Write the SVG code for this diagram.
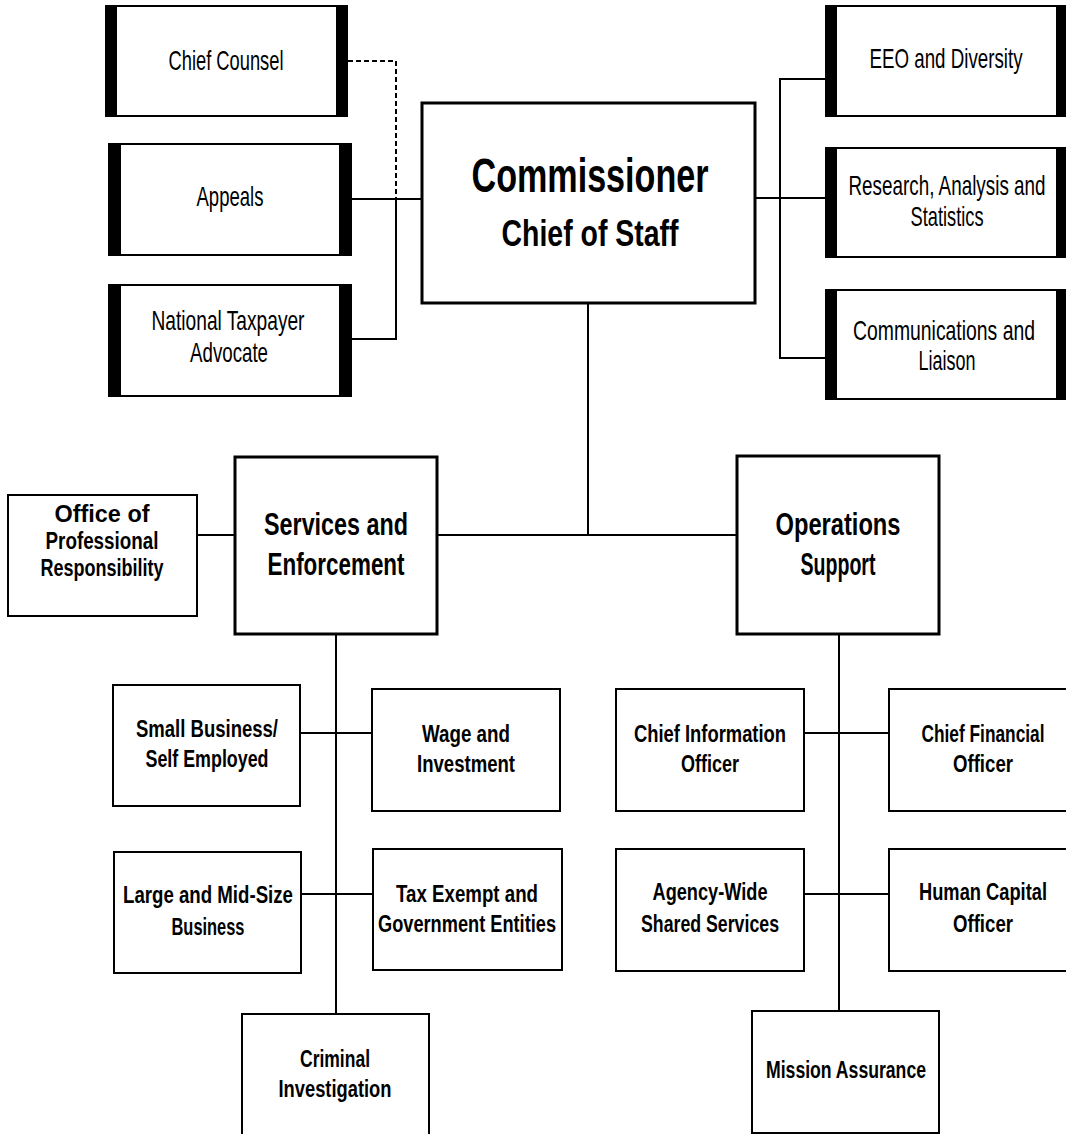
<svg xmlns="http://www.w3.org/2000/svg" width="1066" height="1134" viewBox="0 0 1066 1134">
<style>
.bx{fill:#fff;stroke:#000;stroke-width:2}
.bx3{fill:#fff;stroke:#000;stroke-width:3}
.bar{fill:#000}
.ln{fill:none;stroke:#000;stroke-width:2}
.dash{fill:none;stroke:#000;stroke-width:2;stroke-dasharray:5 3}
text{font-family:"Liberation Sans Narrow","Liberation Sans",Arial,sans-serif;text-anchor:middle;fill:#000}
.lt{font-size:28px;font-weight:normal}
.b{font-size:23px;font-weight:bold}
.bm{font-size:32px;font-weight:bold}
.bl{font-size:48px;font-weight:bold}
.bl2{font-size:37px;font-weight:bold}
</style>
<rect width="1066" height="1134" fill="#fff"/>
<g id="connectors">
<polyline class="dash" points="348,61 396,61 396,199"/>
<line class="ln" x1="352" y1="199" x2="422" y2="199"/>
<polyline class="ln" points="352,339 396,339 396,199"/>
<line class="ln" x1="755" y1="198" x2="827" y2="198"/>
<polyline class="ln" points="843,79 780,79 780,358 843,358"/>
<line class="ln" x1="588" y1="303" x2="588" y2="535"/>
<line class="ln" x1="437" y1="535" x2="737" y2="535"/>
<line class="ln" x1="197" y1="535" x2="235" y2="535"/>
<line class="ln" x1="336" y1="634" x2="336" y2="1014"/>
<line class="ln" x1="300" y1="733" x2="372" y2="733"/>
<line class="ln" x1="301" y1="894" x2="373" y2="894"/>
<line class="ln" x1="839" y1="634" x2="839" y2="1011"/>
<line class="ln" x1="804" y1="733" x2="889" y2="733"/>
<line class="ln" x1="804" y1="894" x2="889" y2="894"/>
</g>
<g id="chief-counsel">
<rect class="bx" x="106" y="6" width="241" height="110"/>
<rect class="bar" x="105" y="5" width="12" height="112"/>
<rect class="bar" x="336" y="5" width="12" height="112"/>
<text class="lt" x="226" y="70" textLength="115" lengthAdjust="spacingAndGlyphs">Chief Counsel</text>
</g>
<g id="appeals">
<rect class="bx" x="109" y="144" width="242" height="111"/>
<rect class="bar" x="108" y="143" width="13" height="113"/>
<rect class="bar" x="339" y="143" width="13" height="113"/>
<text class="lt" x="230" y="206" textLength="67" lengthAdjust="spacingAndGlyphs">Appeals</text>
</g>
<g id="national-taxpayer-advocate">
<rect class="bx" x="109" y="285" width="242" height="111"/>
<rect class="bar" x="108" y="284" width="13" height="113"/>
<rect class="bar" x="339" y="284" width="13" height="113"/>
<text class="lt" x="228" y="330" textLength="153" lengthAdjust="spacingAndGlyphs">National Taxpayer</text>
<text class="lt" x="229" y="362" textLength="78" lengthAdjust="spacingAndGlyphs">Advocate</text>
</g>
<g id="commissioner">
<rect class="bx3" x="422" y="103" width="333" height="200"/>
<text class="bl" x="590" y="192" textLength="237" lengthAdjust="spacingAndGlyphs">Commissioner</text>
<text class="bl2" x="590" y="246" textLength="177" lengthAdjust="spacingAndGlyphs">Chief of Staff</text>
</g>
<g id="eeo-diversity">
<rect class="bx" x="826" y="6" width="239" height="110"/>
<rect class="bar" x="825" y="5" width="12" height="112"/>
<rect class="bar" x="1056" y="5" width="10" height="112"/>
<text class="lt" x="946" y="68" textLength="153" lengthAdjust="spacingAndGlyphs">EEO and Diversity</text>
</g>
<g id="research-analysis-statistics">
<rect class="bx" x="826" y="148" width="239" height="109"/>
<rect class="bar" x="825" y="147" width="12" height="111"/>
<rect class="bar" x="1056" y="147" width="10" height="111"/>
<text class="lt" x="947" y="195" textLength="197" lengthAdjust="spacingAndGlyphs">Research, Analysis and</text>
<text class="lt" x="947" y="226" textLength="73" lengthAdjust="spacingAndGlyphs">Statistics</text>
</g>
<g id="communications-liaison">
<rect class="bx" x="826" y="290" width="239" height="109"/>
<rect class="bar" x="825" y="289" width="12" height="111"/>
<rect class="bar" x="1056" y="289" width="10" height="111"/>
<text class="lt" x="944" y="340" textLength="182" lengthAdjust="spacingAndGlyphs">Communications and</text>
<text class="lt" x="947" y="370" textLength="57" lengthAdjust="spacingAndGlyphs">Liaison</text>
</g>
<g id="office-professional-responsibility">
<rect class="bx" x="8" y="495" width="189" height="121"/>
<text class="b" x="102" y="522" textLength="95" lengthAdjust="spacingAndGlyphs">Office of</text>
<text class="b" x="102" y="549" textLength="113" lengthAdjust="spacingAndGlyphs">Professional</text>
<text class="b" x="102" y="576" textLength="123" lengthAdjust="spacingAndGlyphs">Responsibility</text>
</g>
<g id="services-enforcement">
<rect class="bx3" x="235" y="457" width="202" height="177"/>
<text class="bm" x="336" y="535" textLength="144" lengthAdjust="spacingAndGlyphs">Services and</text>
<text class="bm" x="336" y="575" textLength="137" lengthAdjust="spacingAndGlyphs">Enforcement</text>
</g>
<g id="operations-support">
<rect class="bx3" x="737" y="456" width="202" height="178"/>
<text class="bm" x="838" y="535" textLength="125" lengthAdjust="spacingAndGlyphs">Operations</text>
<text class="bm" x="838" y="575" textLength="75" lengthAdjust="spacingAndGlyphs">Support</text>
</g>
<g id="small-business">
<rect class="bx" x="113" y="685" width="187" height="121"/>
<text class="b" x="207" y="737" textLength="142" lengthAdjust="spacingAndGlyphs">Small Business/</text>
<text class="b" x="207" y="767" textLength="123" lengthAdjust="spacingAndGlyphs">Self Employed</text>
</g>
<g id="wage-investment">
<rect class="bx" x="372" y="689" width="188" height="122"/>
<text class="b" x="466" y="742" textLength="88" lengthAdjust="spacingAndGlyphs">Wage and</text>
<text class="b" x="466" y="772" textLength="98" lengthAdjust="spacingAndGlyphs">Investment</text>
</g>
<g id="large-midsize">
<rect class="bx" x="114" y="852" width="187" height="121"/>
<text class="b" x="208" y="903" textLength="170" lengthAdjust="spacingAndGlyphs">Large and Mid-Size</text>
<text class="b" x="208" y="935" textLength="73" lengthAdjust="spacingAndGlyphs">Business</text>
</g>
<g id="tax-exempt">
<rect class="bx" x="373" y="849" width="189" height="121"/>
<text class="b" x="467" y="902" textLength="142" lengthAdjust="spacingAndGlyphs">Tax Exempt and</text>
<text class="b" x="467" y="932" textLength="178" lengthAdjust="spacingAndGlyphs">Government Entities</text>
</g>
<g id="criminal-investigation">
<rect class="bx" x="242" y="1014" width="187" height="130"/>
<text class="b" x="335" y="1067" textLength="70" lengthAdjust="spacingAndGlyphs">Criminal</text>
<text class="b" x="335" y="1097" textLength="113" lengthAdjust="spacingAndGlyphs">Investigation</text>
</g>
<g id="chief-information-officer">
<rect class="bx" x="616" y="689" width="188" height="122"/>
<text class="b" x="710" y="742" textLength="152" lengthAdjust="spacingAndGlyphs">Chief Information</text>
<text class="b" x="710" y="772" textLength="58" lengthAdjust="spacingAndGlyphs">Officer</text>
</g>
<g id="chief-financial-officer">
<rect class="bx" x="889" y="689" width="188" height="122"/>
<text class="b" x="983" y="742" textLength="123" lengthAdjust="spacingAndGlyphs">Chief Financial</text>
<text class="b" x="983" y="772" textLength="60" lengthAdjust="spacingAndGlyphs">Officer</text>
</g>
<g id="agency-wide-shared-services">
<rect class="bx" x="616" y="849" width="188" height="122"/>
<text class="b" x="710" y="900" textLength="115" lengthAdjust="spacingAndGlyphs">Agency-Wide</text>
<text class="b" x="710" y="932" textLength="138" lengthAdjust="spacingAndGlyphs">Shared Services</text>
</g>
<g id="human-capital-officer">
<rect class="bx" x="889" y="849" width="188" height="122"/>
<text class="b" x="983" y="900" textLength="128" lengthAdjust="spacingAndGlyphs">Human Capital</text>
<text class="b" x="983" y="932" textLength="60" lengthAdjust="spacingAndGlyphs">Officer</text>
</g>
<g id="mission-assurance">
<rect class="bx" x="752" y="1011" width="187" height="122"/>
<text class="b" x="846" y="1078" textLength="160" lengthAdjust="spacingAndGlyphs">Mission Assurance</text>
</g>
</svg>
